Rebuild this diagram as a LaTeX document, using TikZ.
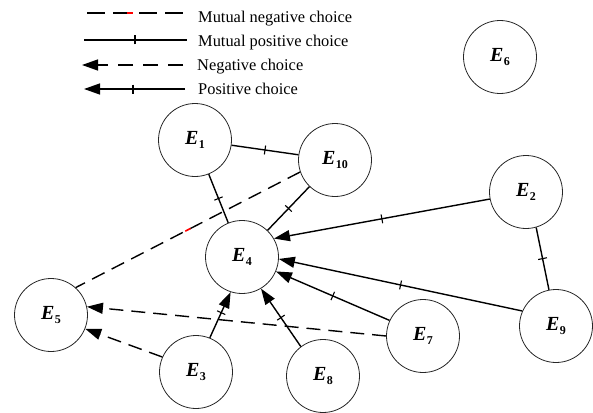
\documentclass[tikz,border=0pt]{standalone}
\usepackage{fontspec}
\setmainfont{Liberation Serif}
\usetikzlibrary{arrows.meta,decorations.markings}
\newcommand{\Elab}[1]{{\fontsize{20}{20}\selectfont\bfseries\itshape E}\kern0.5pt\raisebox{-4.5pt}{\fontsize{12}{12}\selectfont\bfseries #1}}
\begin{document}
\begin{tikzpicture}[x=1pt,y=-1pt,
  ent/.style={circle,draw=black!85,line width=0.8pt,minimum size=73pt,inner sep=0pt},
  conn/.style={line width=1.4pt},
  negline/.style={conn,dash pattern=on 14pt off 8pt},
  arrowhd/.style={-{Triangle[length=16pt,width=11pt]}},
  plus/.style={postaction={decorate,decoration={markings,mark=at position #1 with {\draw[-,line width=1.1pt,solid] (0,-4.5pt)--(0,4.5pt);}}}},
  plus/.default=0.5,
  redtick/.style={postaction={decorate,decoration={markings,mark=at position #1 with {\draw[-,line width=1.6pt,solid,red] (-3pt,0)--(3pt,0);}}}},
  redtick/.default=0.5,
  legtext/.style={anchor=base west,font=\fontsize{16.4}{18}\selectfont,inner sep=0pt}]
\useasboundingbox (0,0) rectangle (593,412);

% legend
\coordinate (l1a) at (87,13);  \coordinate (l1b) at (183,13);
\coordinate (l2a) at (84,40);  \coordinate (l2b) at (187,40);
\coordinate (l3a) at (82,65);  \coordinate (l3b) at (183,65);
\coordinate (l4a) at (84,89);  \coordinate (l4b) at (185,89);
\draw[conn,dash pattern=on 18pt off 8pt,redtick=0.45] (l1a) -- (l1b);
\draw[conn,plus=0.495] (l2a) -- (l2b);
\draw[conn,dash pattern=on 15pt off 10pt,arrowhd] (l3b) -- (l3a);
\draw[conn,arrowhd,plus=0.515] (l4b) -- (l4a);
\node[legtext] (t1) at (198,23) {Mutual negative choice};
\node[legtext] (t2) at (198,46) {Mutual positive choice};
\node[legtext] (t3) at (197,70) {Negative choice};
\node[legtext] (t4) at (198,94) {Positive choice};

% entities
\node[ent] (E1)  at (195,140) {\Elab{1}};
\node[ent] (E10) at (335,160) {\Elab{10}};
\node[ent] (E6)  at (500,57)  {\Elab{6}};
\node[ent] (E2)  at (526,192) {\Elab{2}};
\node[ent] (E4)  at (242,257) {\Elab{4}};
\node[ent] (E5)  at (51,315)  {\Elab{5}};
\node[ent] (E3)  at (196,372) {\Elab{3}};
\node[ent] (E8)  at (323,376) {\Elab{8}};
\node[ent] (E7)  at (423,336) {\Elab{7}};
\node[ent] (E9)  at (556,326) {\Elab{9}};

% mutual positive
\draw[conn,plus] (E1) -- (E10);
\draw[conn,plus] (E1) -- (E4);
\draw[conn,plus] (E10) -- (E4);
\draw[conn,plus] (E2.-74) -- (E9.101);
% mutual negative
\draw[negline,redtick] (E10.199) -- (E5.48);
% positive choices
\draw[conn,arrowhd,plus] (E2.191) -- (E4.30);
\draw[conn,arrowhd,plus] (E9.156) -- (E4.-3);
\draw[conn,arrowhd,plus] (E7.155) -- (E4.-23);
\draw[conn,arrowhd,plus] (E8.127) -- (E4.-59);
\draw[conn,arrowhd,plus=0.55] (E3.68) -- (E4.-108);
% negative choices
\draw[negline,arrowhd] (E7.180) -- (E5.13);
\draw[negline,arrowhd] (E3.156) -- (E5.-22);
\end{tikzpicture}
\end{document}
